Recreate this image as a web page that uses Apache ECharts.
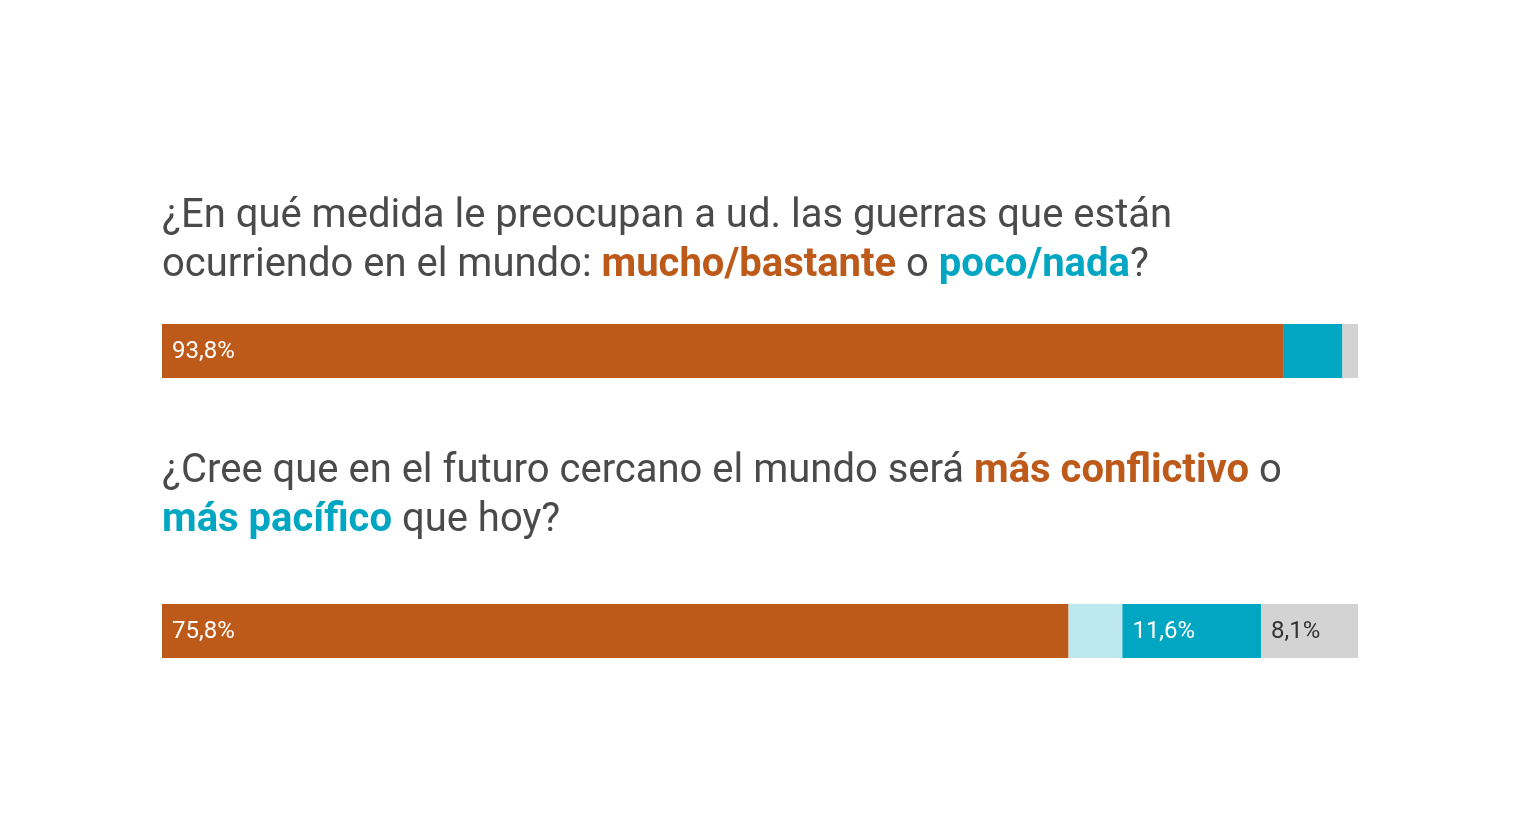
<!DOCTYPE html>
<html>
<head>
<meta charset="utf-8">
<script src="https://cdn.jsdelivr.net/npm/echarts@6/dist/echarts.min.js"></script>
<style>html,body{margin:0;padding:0;background:#fff;}#c{width:1520px;height:822px;}</style>
</head>
<body>
<div id="c"></div>
<script>
var categories = ['preocupación', 'futuro'];
var q1Values = [93.8, 4.9, 1.3];
var q2Values = [75.8, 4.5, 11.6, 8.1];
var q1Labels = ['93,8%', '', ''];
var q2Labels = ['75,8%', '', '11,6%', '8,1%'];
var colors = ['#BD5A1A', '#BEE8EF', '#00A6C2', '#D3D3D3'];

var chart = echarts.init(document.getElementById('c'));
var textColor = '#4a4a4a';
var FS = 40, LH = 49;
var rich = {
  n: {fontFamily: 'Roboto', fontSize: FS, color: textColor, fontWeight: 'normal', lineHeight: LH},
  o: {fontFamily: 'Roboto', fontSize: FS, color: '#BD5A1A', fontWeight: 'bold', lineHeight: LH},
  b: {fontFamily: 'Roboto', fontSize: FS, color: '#00A6C2', fontWeight: 'bold', lineHeight: LH}
};

function seriesFor(values, labels, colorIdx, axisIdx) {
  return values.map(function (v, i) {
    var ci = colorIdx[i];
    return {
      type: 'bar',
      stack: 's' + axisIdx,
      xAxisIndex: axisIdx,
      yAxisIndex: axisIdx,
      barWidth: '100%',
      data: [v],
      itemStyle: {color: colors[ci]},
      silent: true,
      label: {
        show: labels[i] !== '',
        position: 'insideLeft',
        distance: 10,
        offset: [0, 1],
        formatter: labels[i],
        fontFamily: 'Roboto',
        fontSize: 24,
        color: ci === 3 ? '#333333' : '#ffffff'
      }
    };
  });
}

var series = seriesFor(q1Values, q1Labels, [0, 2, 3], 0)
  .concat(seriesFor(q2Values, q2Labels, [0, 1, 2, 3], 1));

chart.setOption({
  animation: false,
  title: [
    {
      left: 162, top: 192, padding: 0,
      text: '{n|¿En qué medida le preocupan a ud. las guerras que están}\n{n|ocurriendo en el mundo: }{o|mucho/bastante}{n| o }{b|poco/nada}{n|?}',
      textStyle: {fontWeight: 'normal', rich: rich}
    },
    {
      left: 162, top: 447, padding: 0,
      text: '{n|¿Cree que en el futuro cercano el mundo será }{o|más conflictivo}{n| o}\n{b|más pacífico}{n| que hoy?}',
      textStyle: {fontWeight: 'normal', rich: rich}
    }
  ],
  grid: [
    {left: 162, width: 1196, top: 324, height: 54},
    {left: 162, width: 1196, top: 604, height: 54}
  ],
  xAxis: [
    {type: 'value', gridIndex: 0, min: 0, max: 100, show: false},
    {type: 'value', gridIndex: 1, min: 0, max: 100, show: false}
  ],
  yAxis: [
    {type: 'category', gridIndex: 0, data: [categories[0]], show: false},
    {type: 'category', gridIndex: 1, data: [categories[1]], show: false}
  ],
  series: series
});
</script>
</body>
</html>
